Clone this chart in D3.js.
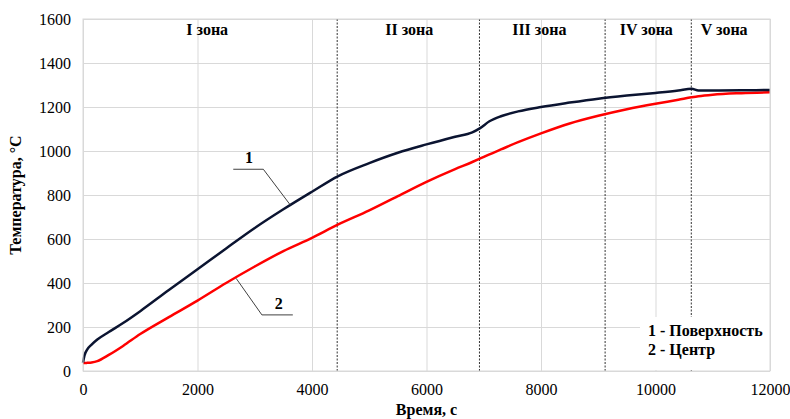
<!DOCTYPE html>
<html>
<head>
<meta charset="utf-8">
<script src="https://cdn.jsdelivr.net/npm/d3@7"></script>
<style>
body{margin:0;background:#fff;}
</style>
</head>
<body>
<div id="chart-area"></div>
<script>
//Data
var times=[0,25,75,150,250,450,700,1000,1500,2000,2500,3000,3500,4000,4450,5000,5500,6000,6500,6800,6930,7100,7300,7600,8000,8500,9000,9500,10000,10400,10630,10750,11000,11500,12000];
var surface=[38,70,98,120,143,177,218,272,368,462,557,650,735,815,885,945,992,1030,1065,1085,1103,1135,1158,1180,1200,1220,1238,1252,1264,1275,1283,1275,1275,1276,1277];
var center=[36,36,37,39,45,73,114,168,245,320,400,475,545,605,665,730,795,860,918,950,965,985,1007,1040,1080,1125,1160,1190,1215,1233,1244,1249,1256,1263,1267];
var zoneBounds=[4440,6925,9120,10625];
var zoneNames=["I зона","II зона","III зона","IV зона","V зона"];
var zoneLabelAt=[2170,5700,7970,9840,11200];
var xTicks=[0,2000,4000,6000,8000,10000,12000];
var yTicks=[0,200,400,600,800,1000,1200,1400,1600];
var legendItems=["1 - Поверхность","2 - Центр"];

var font="Liberation Serif";

//margins, svg, group
var margin={top:19,left:83,right:20,bottom:48};
var width=790-margin.left-margin.right;
var height=419-margin.top-margin.bottom;

var svg=d3.select("#chart-area").append("svg").attr("width",790).attr("height",419);
var g=svg.append("g").attr("transform","translate("+margin.left+","+margin.top+")");

//scales
var x=d3.scaleLinear().domain([0,12000]).range([0,width]);
var y=d3.scaleLinear().domain([0,1600]).range([height,0]);

//grid lines
g.append("g").attr("class","y grid")
 .call(d3.axisLeft(y).tickValues(yTicks).tickSize(-width).tickFormat(""))
 .call(function(s){s.select(".domain").remove();})
 .selectAll("line").attr("stroke","#d9d9d9");
g.append("g").attr("class","x grid")
 .attr("transform","translate(0,"+height+")")
 .call(d3.axisBottom(x).tickValues(xTicks).tickSize(-height).tickFormat(""))
 .call(function(s){s.select(".domain").remove();})
 .selectAll("line").attr("stroke","#d9d9d9");

//axes (labels only)
var xAxis=g.append("g").attr("transform","translate(0,"+height+")")
 .call(d3.axisBottom(x).tickValues(xTicks).tickSize(0).tickPadding(13).tickFormat(d3.format("d")));
xAxis.select(".domain").remove();
xAxis.selectAll("text").attr("fill","#000").style("font-family",font).style("font-size","16px");

var yAxis=g.append("g")
 .call(d3.axisLeft(y).tickValues(yTicks).tickSize(0).tickPadding(12).tickFormat(d3.format("d")));
yAxis.select(".domain").remove();
yAxis.selectAll("text").attr("fill","#000").style("font-family",font).style("font-size","16px");

//zone borders
g.selectAll(".zone").data(zoneBounds).enter().append("line")
 .attr("class","zone")
 .attr("x1",function(d){return x(d);}).attr("x2",function(d){return x(d);})
 .attr("y1",0).attr("y2",height)
 .attr("stroke","#333").attr("stroke-width",1).attr("stroke-dasharray","2,1.5");

//zone labels
g.selectAll(".zlabel").data(zoneNames).enter().append("text")
 .attr("class","zlabel")
 .attr("x",function(d,i){return x(zoneLabelAt[i]);})
 .attr("y",16)
 .attr("text-anchor","middle")
 .style("font-family",font).style("font-size","16px").style("font-weight","bold")
 .text(function(d){return d;});

//lines
var line=d3.line().curve(d3.curveMonotoneX)
 .x(function(d,i){return x(times[i]);})
 .y(function(d){return y(d);});

g.append("path").datum(center).attr("d",line)
 .attr("fill","none").attr("stroke","#ff0000").attr("stroke-width",2.5);
g.append("path").datum(surface).attr("d",line)
 .attr("fill","none").attr("stroke","#0b1431").attr("stroke-width",2.5);

//leader lines for labels 1 and 2 (in data units)
var leaders=[
 {label:"1",pts:[[2625,917],[3150,917],[3620,755]],tx:2900,ty:945},
 {label:"2",pts:[[2675,421],[3125,255],[3665,255]],tx:3420,ty:283}
];
leaders.forEach(function(l){
 g.append("path")
  .attr("d",d3.line().x(function(p){return x(p[0]);}).y(function(p){return y(p[1]);})(l.pts))
  .attr("fill","none").attr("stroke","#404040").attr("stroke-width",1);
 g.append("text").attr("x",x(l.tx)).attr("y",y(l.ty))
  .attr("text-anchor","middle")
  .style("font-family",font).style("font-size","16px").style("font-weight","bold")
  .text(l.label);
});

//legend box
var lg=g.append("g").attr("transform","translate("+(width-130)+","+(height-54)+")");
lg.append("rect").attr("width",130).attr("height",53).attr("fill","#fff");
lg.selectAll("text").data(legendItems).enter().append("text")
 .attr("x",8).attr("y",function(d,i){return 19+i*19;})
 .style("font-family",font).style("font-size","16px").style("font-weight","bold")
 .text(function(d){return d;});

//plot border
g.append("rect").attr("width",width).attr("height",height)
 .attr("fill","none").attr("stroke","#d9d9d9");

//axis titles
g.append("text").attr("x",width/2).attr("y",height+44)
 .attr("text-anchor","middle")
 .style("font-family",font).style("font-size","16px").style("font-weight","bold")
 .text("Время, с");
g.append("text").attr("transform","rotate(-90)")
 .attr("x",-height/2).attr("y",-62)
 .attr("text-anchor","middle")
 .style("font-family",font).style("font-size","16px").style("font-weight","bold")
 .text("Температура, °С");
</script>
</body>
</html>
